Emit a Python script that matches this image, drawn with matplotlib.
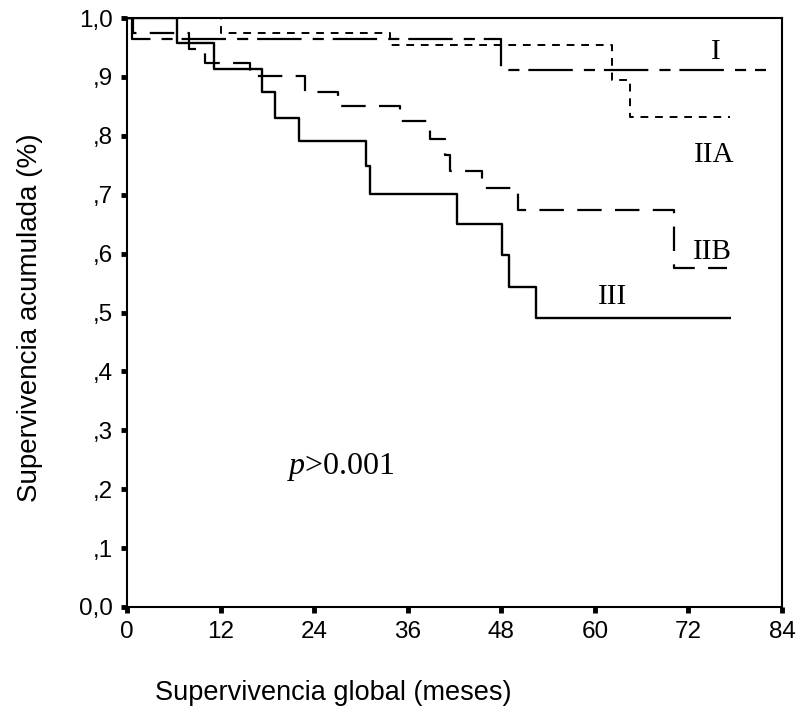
import matplotlib
matplotlib.use("Agg")
import matplotlib.pyplot as plt

plt.rcParams["mathtext.fontset"] = "custom"
plt.rcParams["mathtext.rm"] = "Liberation Serif"
plt.rcParams["mathtext.it"] = "Liberation Serif:italic"

# ---- data (Kaplan-Meier steps) ----
t_I = [0, 0.6, 48.0, 82.0]
s_I = [1.0, 0.965, 0.911, 0.911]

t_IIA = [0, 12.0, 33.7, 62.2, 64.5, 77.3]
s_IIA = [1.0, 0.975, 0.955, 0.894, 0.832, 0.832]

t_IIB = [0, 0.8, 7.9, 10.0, 15.8, 22.8, 27.1, 35.0, 38.8, 40.8, 41.4, 45.5, 50.2, 70.1, 76.9]
s_IIB = [1.0, 0.975, 0.947, 0.924, 0.901, 0.874, 0.850, 0.825, 0.795, 0.768, 0.741, 0.711, 0.674, 0.576, 0.576]

t_III = [0, 6.4, 11.1, 17.3, 19.0, 22.0, 30.7, 31.2, 42.3, 48.05, 49.0, 52.5, 77.5]
s_III = [1.0, 0.958, 0.914, 0.874, 0.831, 0.791, 0.748, 0.701, 0.650, 0.597, 0.543, 0.490, 0.490]

x_ticks = [0, 12, 24, 36, 48, 60, 72, 84]
y_ticks = [0.0, 0.1, 0.2, 0.3, 0.4, 0.5, 0.6, 0.7, 0.8, 0.9, 1.0]
y_ticklabels = ["0,0", ",1", ",2", ",3", ",4", ",5", ",6", ",7", ",8", ",9", "1,0"]

group_labels = ["I", "IIA", "IIB", "III"]
label_pos = [(75.5, 0.942), (75.3, 0.767), (75.1, 0.603), (62.3, 0.526)]

# ---- figure ----
fig = plt.figure(figsize=(8.0, 7.22), dpi=100)
ax = fig.add_axes([127/800, 1-607/722, (782-127)/800, (607-18)/722])

ax.plot(t_III, s_III, drawstyle="steps-post", color="black", lw=1.7, solid_capstyle="butt")
ax.plot(t_IIB, s_IIB, drawstyle="steps-post", color="black", lw=1.6, dashes=(11, 6))
ax.plot(t_IIA, s_IIA, drawstyle="steps-post", color="black", lw=1.4, dashes=(4, 3.5))
ax.plot(t_I, s_I, drawstyle="steps-post", color="black", lw=1.6, dashes=(20, 5, 5, 4))

ax.set_xlim(0, 84)
ax.set_ylim(0, 1.0)
ax.set_xticks(x_ticks)
ax.set_yticks(y_ticks)
ax.set_yticklabels(y_ticklabels)

for sp in ax.spines.values():
    sp.set_linewidth(1.5)
    sp.set_color("black")

ax.tick_params(axis="both", direction="out", length=4, width=3.5, color="black",
               labelsize=17.5, pad=6)
for lab in ax.get_xticklabels() + ax.get_yticklabels():
    lab.set_family("Liberation Sans")

for name, (tx, ty) in zip(group_labels, label_pos):
    ax.text(tx, ty, name, family="Liberation Serif", fontsize=21,
            ha="center", va="center", color="black")

ax.text(20.5, 0.238, r"$\it{p}$>0.001", family="Liberation Serif", fontsize=23,
        ha="left", va="center")

fig.text(333/800, 1-693/722, "Supervivencia global (meses)", family="Liberation Sans",
         fontsize=19.5, ha="center", va="center")
fig.text(30/800, 1-318/722, "Supervivencia acumulada (%)", family="Liberation Sans",
         fontsize=20, ha="center", va="center", rotation=90)

fig.savefig("out.png", dpi=100, facecolor="white")
